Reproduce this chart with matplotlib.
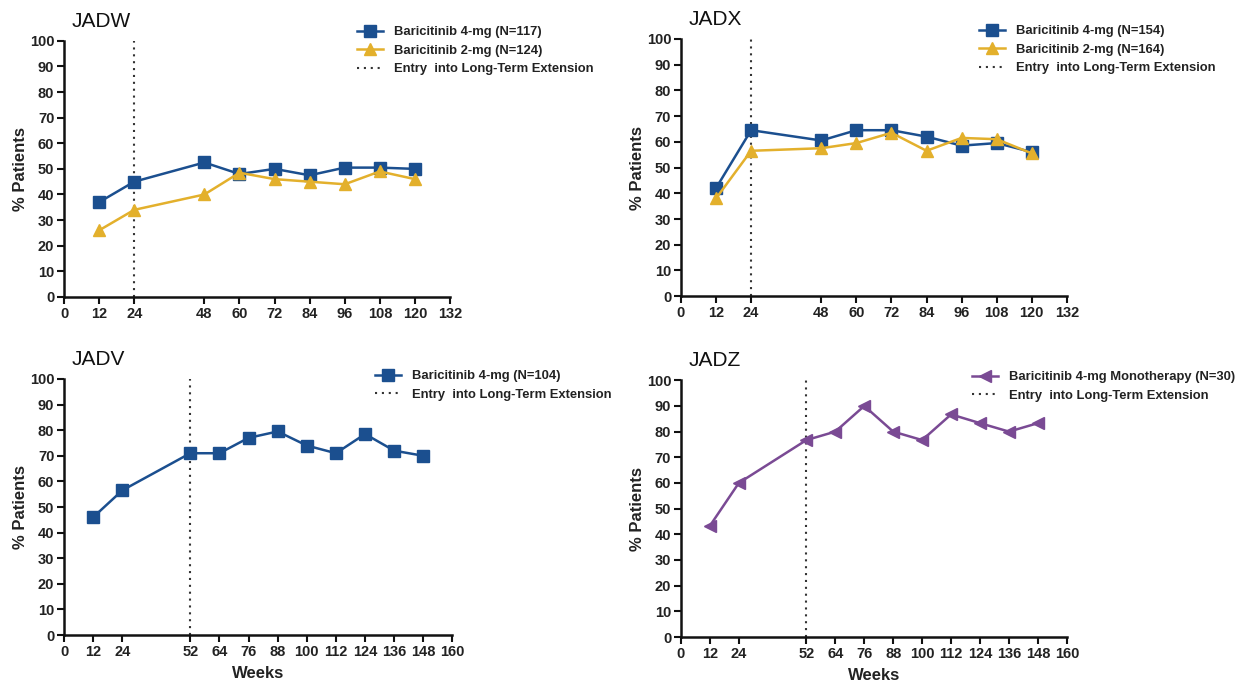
import matplotlib
matplotlib.use("Agg")
import matplotlib.pyplot as plt
from matplotlib.lines import Line2D

# Study data: % patients by week
weeks_short = [12, 24, 48, 60, 72, 84, 96, 108, 120]
jadw_4mg = [37, 45, 52.5, 48, 50, 47.5, 50.5, 50.5, 50]
jadw_2mg = [26, 34, 40, 48.5, 46, 45, 44, 49, 46]
jadx_4mg = [42, 64.5, 60.5, 64.5, 64.5, 62, 58.5, 59.5, 56]
jadx_2mg = [38, 56.5, 57.5, 59.5, 63.5, 56.5, 61.5, 61, 55.5]

weeks_long = [12, 24, 52, 64, 76, 88, 100, 112, 124, 136, 148]
jadv_4mg = [46, 56.5, 71, 71, 77, 79.5, 74, 71, 78.5, 72, 70]
jadz_4mg = [43.3, 60, 76.7, 80, 90, 80, 76.7, 86.7, 83.3, 80, 83.3]

xticks_short = [0, 12, 24, 48, 60, 72, 84, 96, 108, 120, 132]
xticks_long = [0, 12, 24, 52, 64, 76, 88, 100, 112, 124, 136, 148, 160]
yticks = list(range(0, 101, 10))

BLUE = "#1b4f8f"
GOLD = "#e3b02c"
PURPLE = "#7a4a94"

TICK_FONT = ["Liberation Sans Narrow", "Liberation Sans", "DejaVu Sans"]
TEXT_FONT = ["Liberation Sans", "DejaVu Sans"]

W, H = 1241, 681
fig = plt.figure(figsize=(W / 100, H / 100), dpi=100)

positions = {
    "JADW": [0.0516, 0.564, 0.311, 0.376],
    "JADX": [0.5487, 0.565, 0.311, 0.378],
    "JADV": [0.0516, 0.0675, 0.313, 0.376],
    "JADZ": [0.5487, 0.0646, 0.311, 0.377],
}


def style_axes(ax, xticks, xmax, entry_week, title, show_xlabel):
    ax.set_xlim(0, xmax)
    ax.set_ylim(0, 100)
    ax.set_xticks(xticks)
    ax.set_yticks(yticks)
    ax.spines["top"].set_visible(False)
    ax.spines["right"].set_visible(False)
    for s in ("left", "bottom"):
        ax.spines[s].set_linewidth(1.8)
        ax.spines[s].set_color("#111111")
    ax.tick_params(axis="both", direction="out", length=5, width=1.5,
                   color="#111111", pad=2)
    for lab in ax.get_xticklabels() + ax.get_yticklabels():
        lab.set_fontfamily(TICK_FONT)
        lab.set_fontweight("bold")
        lab.set_fontsize(10.5)
        lab.set_color("#222222")
    ax.set_ylabel("% Patients", fontsize=12, fontweight="bold",
                  family=TEXT_FONT, color="#222222", labelpad=1)
    if show_xlabel:
        ax.set_xlabel("Weeks", fontsize=12, fontweight="bold",
                      family=TEXT_FONT, color="#222222", labelpad=5)
    ax.axvline(entry_week, ymin=0, ymax=1, color="#333333", linestyle=(0, (1, 2.3)),
               linewidth=1.5, zorder=1)
    ax.text(0.02, 1.04, title, transform=ax.transAxes, fontsize=15,
            family=TEXT_FONT, color="#111111", va="bottom", ha="left")


def add_legend(ax, handles, labels, x_px, y_px):
    # upper-left corner of the legend box given in figure pixels
    leg = ax.legend(handles, labels, loc="upper left",
                    bbox_to_anchor=(x_px / W, 1 - (y_px - 7) / H),
                    bbox_transform=fig.transFigure,
                    frameon=False, prop={"family": TEXT_FONT, "weight": "bold", "size": 9.4},
                    handlelength=2.0, handletextpad=0.8, labelspacing=0.5,
                    borderpad=0, borderaxespad=0)
    for t in leg.get_texts():
        t.set_color("#222222")


entry_handle = Line2D([], [], color="#333333", linestyle=(0, (1, 2.3)), linewidth=1.5)
MS = 9

# JADW
ax = fig.add_axes(positions["JADW"])
l1, = ax.plot(weeks_short, jadw_4mg, color=BLUE, marker="s", markersize=MS, linewidth=1.8,
              clip_on=False, zorder=3)
l2, = ax.plot(weeks_short, jadw_2mg, color=GOLD, marker="^", markersize=MS, linewidth=1.8,
              clip_on=False, zorder=4)
style_axes(ax, xticks_short, 132, 24, "JADW", False)
add_legend(ax, [l1, l2, entry_handle],
           ["Baricitinib 4-mg (N=117)", "Baricitinib 2-mg (N=124)",
            "Entry  into Long-Term Extension"], 357, 33)

# JADX
ax = fig.add_axes(positions["JADX"])
l1, = ax.plot(weeks_short, jadx_4mg, color=BLUE, marker="s", markersize=MS, linewidth=1.8,
              clip_on=False, zorder=3)
l2, = ax.plot(weeks_short, jadx_2mg, color=GOLD, marker="^", markersize=MS, linewidth=1.8,
              clip_on=False, zorder=4)
style_axes(ax, xticks_short, 132, 24, "JADX", False)
add_legend(ax, [l1, l2, entry_handle],
           ["Baricitinib 4-mg (N=154)", "Baricitinib 2-mg (N=164)",
            "Entry  into Long-Term Extension"], 979, 32)

# JADV
ax = fig.add_axes(positions["JADV"])
l1, = ax.plot(weeks_long, jadv_4mg, color=BLUE, marker="s", markersize=MS, linewidth=1.8,
              clip_on=False, zorder=3)
style_axes(ax, xticks_long, 160, 52, "JADV", True)
add_legend(ax, [l1, entry_handle],
           ["Baricitinib 4-mg (N=104)", "Entry  into Long-Term Extension"], 375, 377)

# JADZ
ax = fig.add_axes(positions["JADZ"])
l1, = ax.plot(weeks_long, jadz_4mg, color=PURPLE, marker="<", markersize=MS, linewidth=1.8,
              clip_on=False, zorder=3)
style_axes(ax, xticks_long, 160, 52, "JADZ", True)
add_legend(ax, [l1, entry_handle],
           ["Baricitinib 4-mg Monotherapy (N=30)", "Entry  into Long-Term Extension"],
           972, 378)

fig.savefig("out.png", dpi=100, facecolor="white")
